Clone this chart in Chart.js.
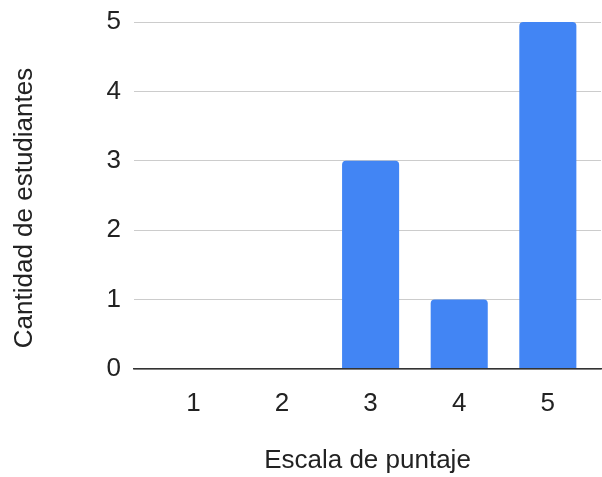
<!DOCTYPE html>
<html>
<head>
<meta charset="utf-8">
<script src="https://cdn.jsdelivr.net/npm/chart.js@4/dist/chart.umd.min.js"></script>
<style>
  html, body { margin: 0; padding: 0; background: #ffffff; }
  #wrap { width: 602px; height: 477px; }
</style>
</head>
<body>
<div id="wrap"><canvas id="c" width="602" height="477"></canvas></div>
<script>
// Score scale (1–5) and how many students got each score
const scoreLabels = ['1', '2', '3', '4', '5'];
const studentCounts = [0, 0, 3, 1, 5];
const countTicks = [0, 1, 2, 3, 4, 5];

const xTitle = 'Escala de puntaje';
const yTitle = 'Cantidad de estudiantes';

const FONT = "'Liberation Sans', Arial, sans-serif";
const TEXT = '#222222';

const points = scoreLabels.map((lab, i) => ({ x: Number(lab), y: studentCounts[i] }));

new Chart(document.getElementById('c'), {
  type: 'bar',
  data: {
    datasets: [{
      data: points,
      backgroundColor: '#4285F4',
      borderWidth: 0,
      borderRadius: 4,
      categoryPercentage: 1,
      barPercentage: 0.644
    }]
  },
  options: {
    responsive: false,
    animation: false,
    devicePixelRatio: 1,
    layout: { padding: { top: 22, right: 1, bottom: 0, left: 0 } },
    plugins: { legend: { display: false }, tooltip: { enabled: false } },
    scales: {
      x: {
        type: 'linear',
        offset: false,
        min: 0.33,
        max: 5.6,
        afterBuildTicks: s => { s.ticks = scoreLabels.map(l => ({ value: Number(l) })); },
        afterFit: s => { s.height = 108; s.paddingLeft = 0; s.paddingRight = 0; },
        grid: { display: false },
        border: { display: true, color: '#333333', width: 1.5, z: 1 },
        ticks: {
          padding: 11,
          color: TEXT,
          font: { family: FONT, size: 26 },
          callback: v => scoreLabels[v - 1]
        },
        title: {
          display: true,
          text: xTitle,
          color: TEXT,
          font: { family: FONT, size: 26, lineHeight: 1.2 },
          padding: { top: 0, bottom: 0.5 }
        }
      },
      y: {
        min: countTicks[0],
        max: countTicks[countTicks.length - 1],
        afterBuildTicks: s => { s.ticks = countTicks.map(v => ({ value: v })); },
        afterFit: s => {
          s.width = 134;
          s.paddingTop = 0;
          s.paddingBottom = 0;
          // the axis title sits a little below the middle of the plot
          const baseDrawTitle = Object.getPrototypeOf(s).drawTitle;
          s.drawTitle = function () {
            this.ctx.save();
            this.ctx.translate(0, 12.5);
            baseDrawTitle.call(this);
            this.ctx.restore();
          };
        },
        grid: { color: '#cccccc', lineWidth: 1, drawTicks: false },
        border: { display: false },
        ticks: {
          padding: 13,
          color: TEXT,
          font: { family: FONT, size: 26 }
        },
        title: {
          display: true,
          text: yTitle,
          color: TEXT,
          font: { family: FONT, size: 26, lineHeight: 1.2 },
          padding: { top: 9.3, bottom: 0 }
        }
      }
    }
  }
});
</script>
</body>
</html>
